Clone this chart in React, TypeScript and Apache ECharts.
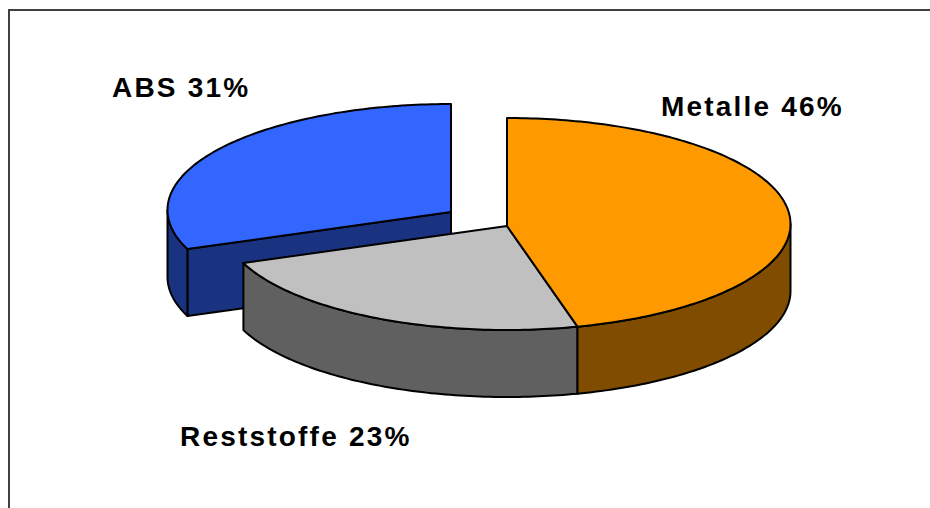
import React, { useEffect, useRef } from "react";
import * as echarts from "echarts";

const categories = ["Metalle", "Reststoffe", "ABS"];
const shares = [46, 23, 31];
const topColors = ["#FF9900", "#C0C0C0", "#3366FF"];
const wallColors = ["#804D00", "#606060", "#1A3380"];

const pie = { cx: 507, cy: 224, rx: 283.5, ry: 106, depth: 67, apexDrop: 2 };
const explode = [
  { dx: 0, dy: 0 },
  { dx: 0, dy: 0 },
  { dx: -56, dy: -14 },
];
const labelAnchors = [
  { x: 661, y: 106 },
  { x: 180, y: 436 },
  { x: 112, y: 87 },
];

const total = shares.reduce((a, b) => a + b, 0);
const startShares = shares.map((_, i) => shares.slice(0, i).reduce((a, b) => a + b, 0));

function point(deg: number, dx: number, dy: number, down = 0): number[] {
  const t = (deg * Math.PI) / 180;
  return [pie.cx + dx + pie.rx * Math.sin(t), pie.cy + dy - pie.ry * Math.cos(t) + down];
}

function arc(from: number, to: number, dx: number, dy: number, down = 0): number[][] {
  const steps = Math.max(2, Math.ceil(Math.abs(to - from)));
  const pts: number[][] = [];
  for (let k = 0; k <= steps; k++) pts.push(point(from + ((to - from) * k) / steps, dx, dy, down));
  return pts;
}

const renderSlice = (_params: any, api: any) => {
  const index = api.value(0) as number;
  const value = api.value(1) as number;
  const start = (startShares[index] / total) * 360;
  const end = start + (value / total) * 360;
  const { dx, dy } = explode[index];
  const apex = [pie.cx + dx, pie.cy + pie.apexDrop + dy];
  const line = { stroke: "#000000", lineWidth: 2, lineJoin: "round" };
  const children: any[] = [];

  const wallFrom = Math.max(start, 90);
  const wallTo = Math.min(end, 270);
  if (dx !== 0 || dy !== 0) {
    const p = point(start, dx, dy);
    children.push({
      type: "polygon",
      shape: { points: [apex, p, [p[0], p[1] + pie.depth], [apex[0], apex[1] + pie.depth]] },
      style: { fill: wallColors[index], ...line },
    });
  }
  if (wallTo > wallFrom) {
    children.push({
      type: "polygon",
      shape: { points: [...arc(wallFrom, wallTo, dx, dy), ...arc(wallTo, wallFrom, dx, dy, pie.depth)] },
      style: { fill: wallColors[index], ...line },
    });
  }
  children.push({
    type: "polygon",
    shape: { points: [apex, ...arc(start, end, dx, dy)] },
    style: { fill: topColors[index], ...line },
  });
  children.push({
    type: "text",
    style: {
      text: `${categories[index]} ${value}%`,
      x: labelAnchors[index].x,
      y: labelAnchors[index].y,
      fill: "#000000",
      font: 'bold 28px "Liberation Sans", Arial, sans-serif',
      textAlign: "left",
      textVerticalAlign: "middle",
    },
  });
  return { type: "group", children };
};

export default function App() {
  const ref = useRef<HTMLDivElement>(null);
  useEffect(() => {
    document.body.style.margin = "0";
    const chart = echarts.init(ref.current!, null, { renderer: "svg" });
    chart.setOption({
      animation: false,
      backgroundColor: "#ffffff",
      graphic: [
        {
          type: "polyline",
          shape: { points: [[9, 508], [9, 10], [930, 10]] },
          style: { stroke: "#404040", lineWidth: 2, fill: "none" },
        },
      ],
      series: [
        {
          type: "custom",
          coordinateSystem: "none",
          renderItem: renderSlice,
          // back-to-front painting order: exploded slice first, front slices last
          data: [2, 1, 0].map((i) => [i, shares[i]]),
        },
      ],
    });
    return () => chart.dispose();
  }, []);
  return (
    <div
      ref={ref}
      style={{ position: "absolute", left: 0, top: 0, width: 930, height: 508, letterSpacing: "2.2px" }}
    />
  );
}
